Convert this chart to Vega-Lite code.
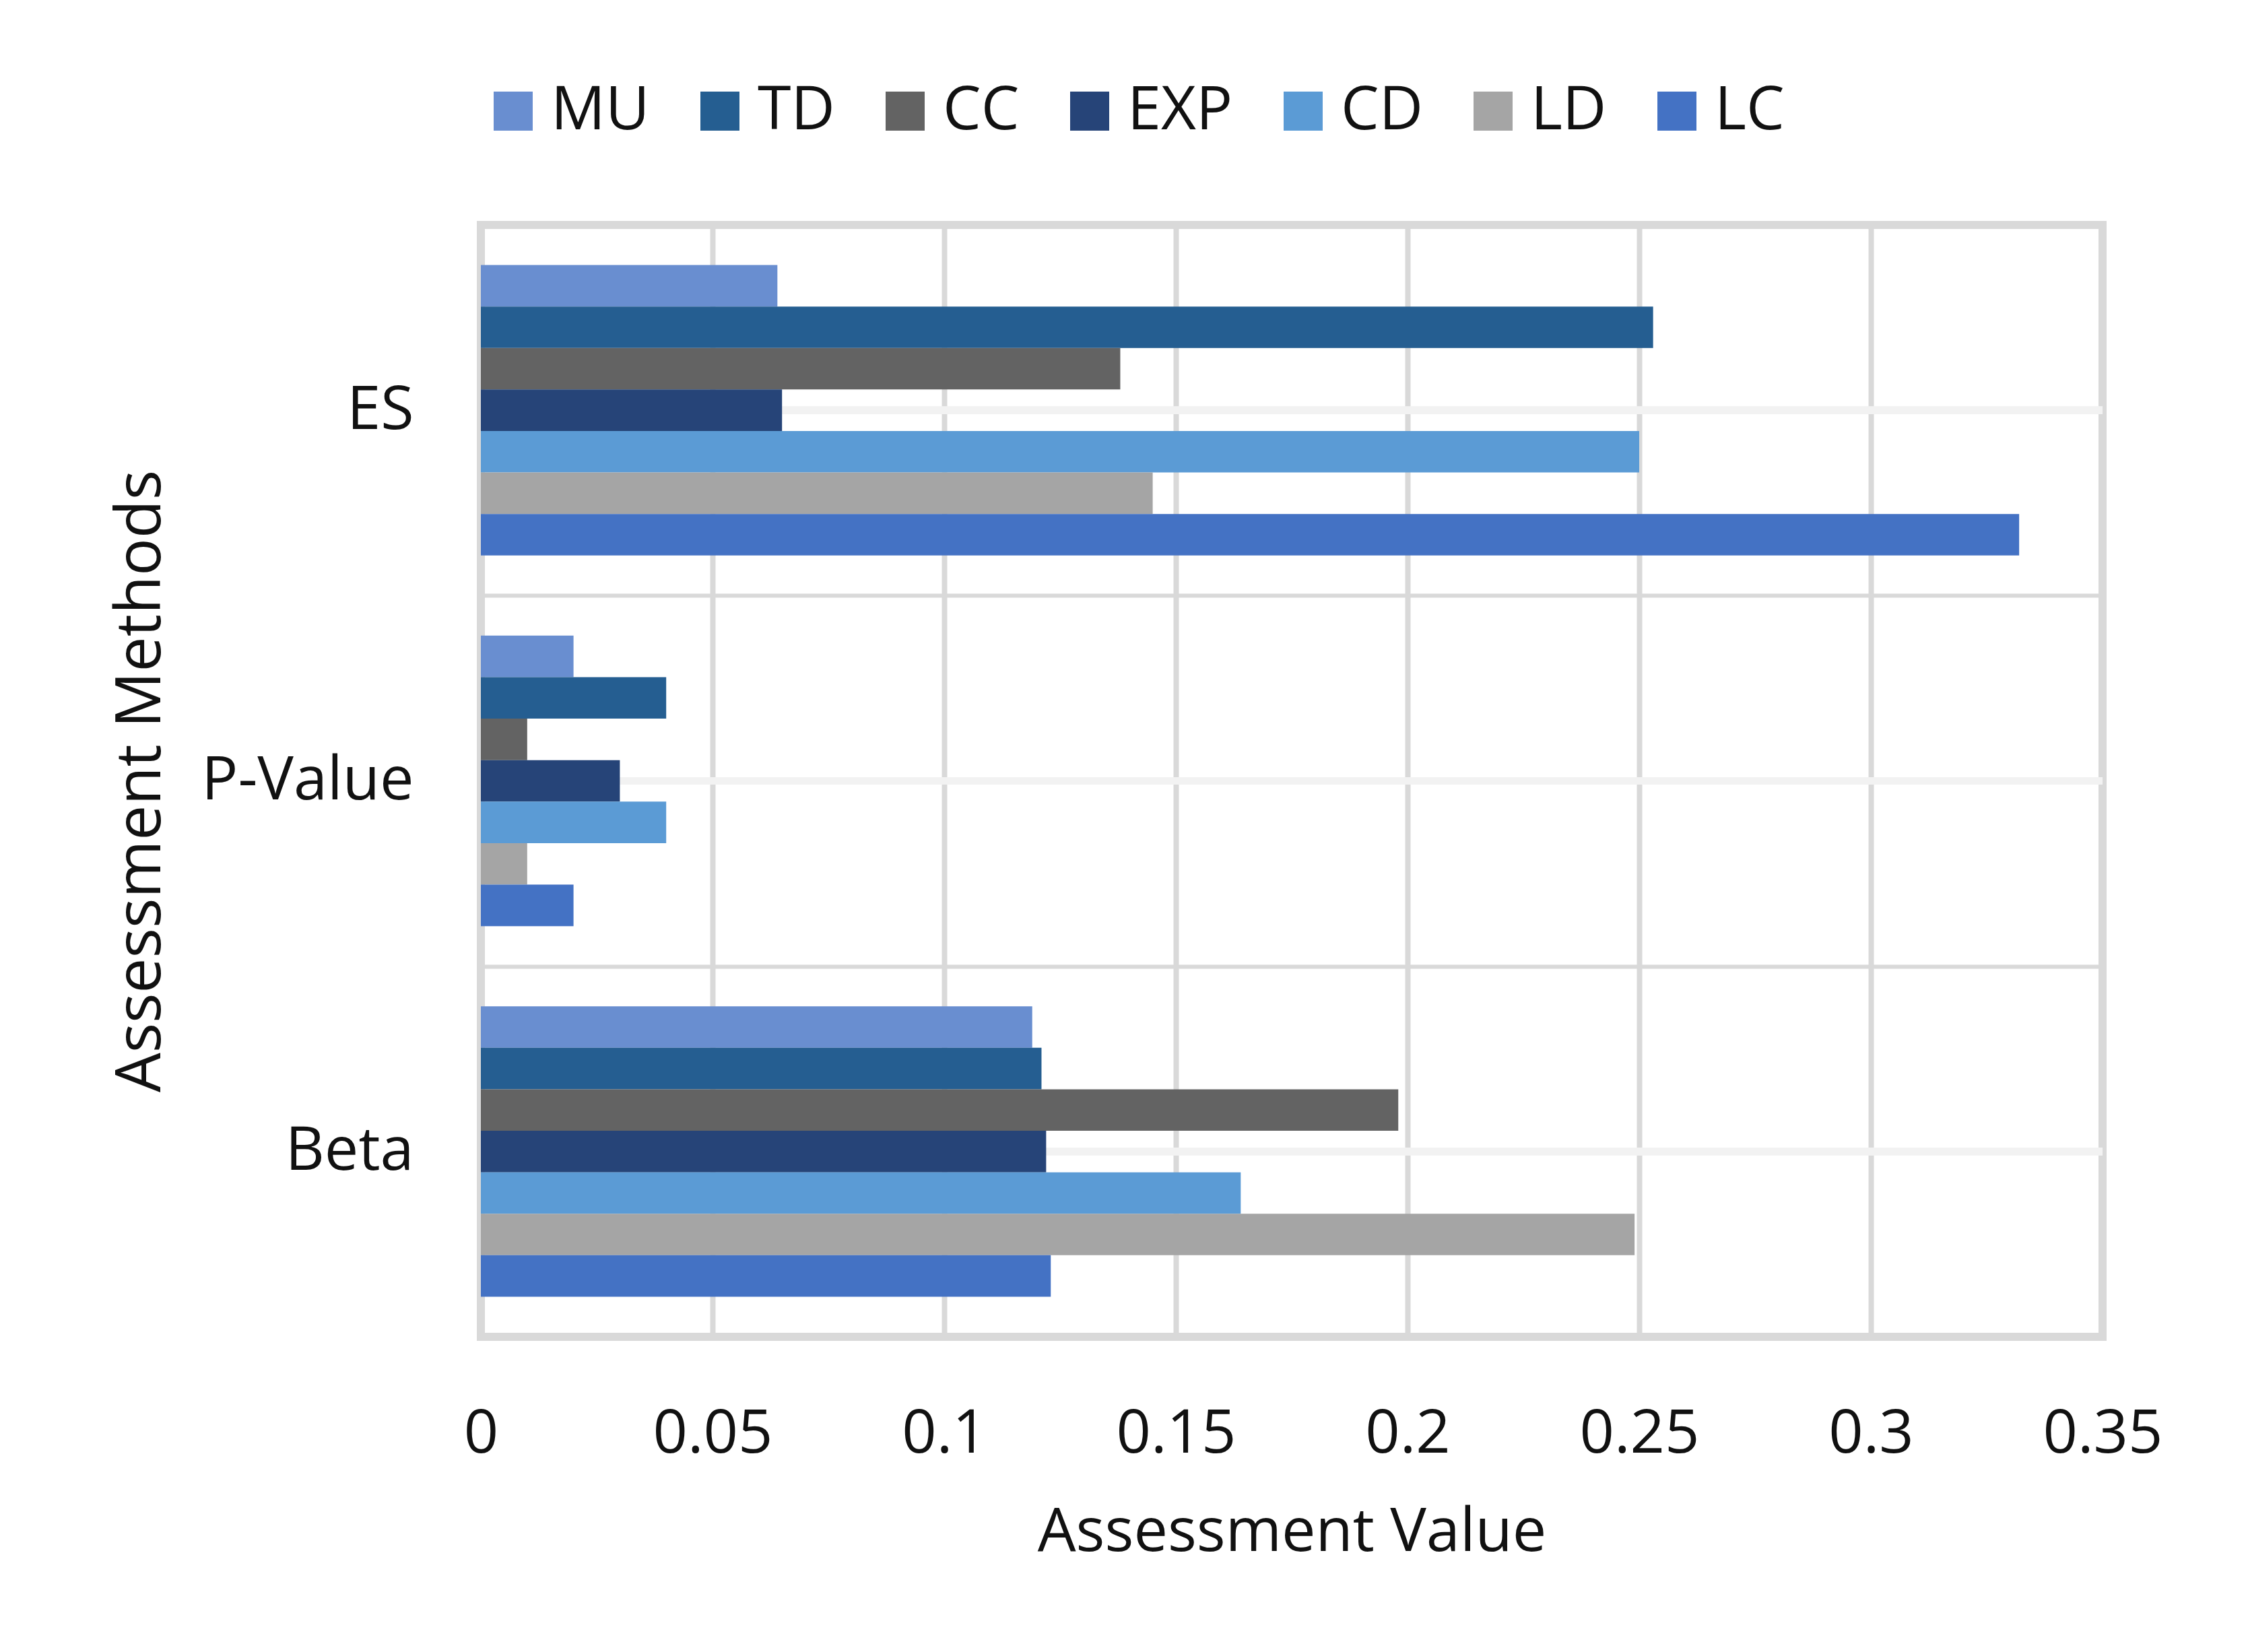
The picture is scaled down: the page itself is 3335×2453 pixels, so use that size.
{
  "$schema": "https://vega.github.io/schema/vega-lite/v6.json",
  "width": 2408,
  "height": 1651,
  "autosize": "none",
  "padding": {"left": 714, "top": 334, "right": 213, "bottom": 468},
  "background": "white",
  "data": {
    "values": [
      {"method": "ES", "series": "MU", "value": 0.064},
      {"method": "ES", "series": "TD", "value": 0.253},
      {"method": "ES", "series": "CC", "value": 0.138},
      {"method": "ES", "series": "EXP", "value": 0.065},
      {"method": "ES", "series": "CD", "value": 0.25},
      {"method": "ES", "series": "LD", "value": 0.145},
      {"method": "ES", "series": "LC", "value": 0.332},
      {"method": "P-Value", "series": "MU", "value": 0.02},
      {"method": "P-Value", "series": "TD", "value": 0.04},
      {"method": "P-Value", "series": "CC", "value": 0.01},
      {"method": "P-Value", "series": "EXP", "value": 0.03},
      {"method": "P-Value", "series": "CD", "value": 0.04},
      {"method": "P-Value", "series": "LD", "value": 0.01},
      {"method": "P-Value", "series": "LC", "value": 0.02},
      {"method": "Beta", "series": "MU", "value": 0.119},
      {"method": "Beta", "series": "TD", "value": 0.121},
      {"method": "Beta", "series": "CC", "value": 0.198},
      {"method": "Beta", "series": "EXP", "value": 0.122},
      {"method": "Beta", "series": "CD", "value": 0.164},
      {"method": "Beta", "series": "LD", "value": 0.249},
      {"method": "Beta", "series": "LC", "value": 0.123}
    ]
  },
  "encoding": {
    "y": {
      "field": "method",
      "type": "nominal",
      "sort": ["ES", "P-Value", "Beta"],
      "scale": {"paddingInner": 0, "paddingOuter": 0},
      "axis": {
        "title": "Assessment Methods",
        "titleFontSize": 93,
        "titleFontWeight": "normal",
        "titlePadding": 257,
        "titleColor": "#111111",
        "labelFontSize": 90,
        "labelColor": "#111111",
        "labelPadding": 100,
        "labelLimit": 0,
        "ticks": false,
        "domain": false,
        "grid": true,
        "tickBand": "extent",
        "gridColor": "#D9D9D9",
        "gridWidth": 6
      }
    }
  },
  "layer": [
    {
      "mark": {"type": "rule", "color": "#F2F2F2", "strokeWidth": 11},
      "encoding": {}
    },
    {
      "mark": {"type": "bar"},
      "encoding": {
        "x": {
          "field": "value",
          "type": "quantitative",
          "scale": {"domain": [0, 0.35], "nice": false, "zero": true},
          "axis": {
            "title": "Assessment Value",
            "titleFontSize": 90,
            "titleFontWeight": "normal",
            "titleColor": "#111111",
            "titlePadding": 57,
            "labelFontSize": 90,
            "labelColor": "#111111",
            "labelPadding": 100,
            "values": [0, 0.05, 0.1, 0.15, 0.2, 0.25, 0.3, 0.35],
            "format": ".2~f",
            "ticks": false,
            "domain": false,
            "grid": true,
            "gridColor": "#D9D9D9",
            "gridWidth": 8,
            "labelFlush": false
          }
        },
        "yOffset": {
          "field": "series",
          "type": "nominal",
          "sort": ["MU", "TD", "CC", "EXP", "CD", "LD", "LC"],
          "scale": {"paddingInner": 0, "paddingOuter": 0.966}
        },
        "color": {
          "field": "series",
          "type": "nominal",
          "sort": ["MU", "TD", "CC", "EXP", "CD", "LD", "LC"],
          "scale": {
            "domain": ["MU", "TD", "CC", "EXP", "CD", "LD", "LC"],
            "range": ["#698ED0", "#255E91", "#636363", "#264478", "#5B9BD5", "#A5A5A5", "#4472C4"]
          },
          "legend": {
            "title": null,
            "orient": "none",
            "direction": "horizontal",
            "legendX": 3,
            "legendY": -214,
            "padding": 0,
            "symbolType": "square",
            "symbolSize": 3364,
            "symbolStrokeWidth": 0,
            "symbolOpacity": 1,
            "labelFontSize": 90,
            "labelColor": "#111111",
            "labelOffset": 11,
            "labelLimit": 0,
            "columnPadding": 59
          }
        }
      }
    }
  ],
  "config": {
    "font": "Open Sans",
    "view": {"stroke": "#D9D9D9", "strokeWidth": 12}
  }
}
